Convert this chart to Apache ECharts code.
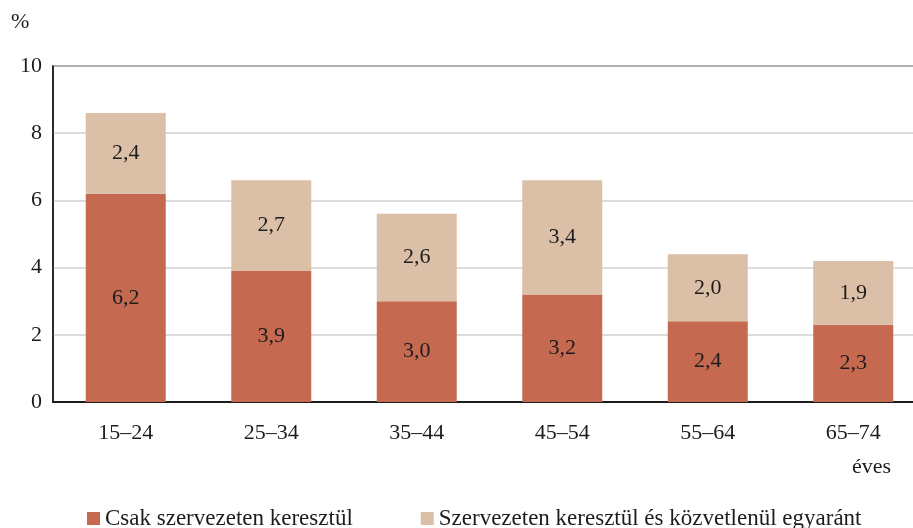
<!DOCTYPE html>
<html>
<head>
<meta charset="utf-8">
<script src="https://cdn.jsdelivr.net/npm/echarts@6/dist/echarts.min.js"></script>
<style>
  html, body { margin: 0; padding: 0; background: #fff; overflow: hidden; }
  /* plot area runs past the right edge of the window, like in the source picture */
  #chart { width: 926px; height: 528px; }
</style>
</head>
<body>
<div id="chart"></div>
<script>
// age groups
const categories = ['15–24', '25–34', '35–44', '45–54', '55–64', '65–74']
const onlyOrg = [6.2, 3.9, 3.0, 3.2, 2.4, 2.3]
const orgAndDirect = [2.4, 2.7, 2.6, 3.4, 2.0, 1.9]
const seriesNames = ['Csak szervezeten keresztül', 'Szervezeten keresztül és közvetlenül egyaránt']

const FONT = '"Liberation Serif", "DejaVu Serif", serif'
const INK = '#1c1c1c'
const fmt = p => p.value.toFixed(1).replace('.', ',')

const chart = echarts.init(document.getElementById('chart'))

const labelStyle = {
  show: true,
  position: 'inside',
  formatter: fmt,
  color: INK,
  fontFamily: FONT,
  fontSize: 22
}

chart.setOption({
  animation: false,
  grid: {
    left: 53, right: 0, top: 66, bottom: 126,
    show: true, borderColor: INK, borderWidth: 1.5,
    containLabel: false
  },
  legend: {
    left: 82, top: 502,
    itemWidth: 13, itemHeight: 13, itemGap: 68,
    icon: 'rect',
    textStyle: { fontFamily: FONT, fontSize: 23, color: INK },
    data: seriesNames
  },
  graphic: [
    { type: 'text', left: 11, top: 11, style: { text: '%', font: '22px ' + FONT, fill: INK } },
    { type: 'text', left: 852, top: 456, style: { text: 'éves', font: '22px ' + FONT, fill: INK } }
  ],
  xAxis: {
    type: 'category',
    data: categories,
    axisLine: { lineStyle: { color: INK, width: 2 } },
    axisTick: { show: false },
    axisLabel: { fontFamily: FONT, fontSize: 22, color: INK, margin: 20 }
  },
  yAxis: {
    type: 'value',
    min: 0, max: 10, interval: 2,
    axisLine: { show: true, lineStyle: { color: INK, width: 1.5 } },
    axisTick: { show: false },
    axisLabel: { fontFamily: FONT, fontSize: 22, color: INK, margin: 11 },
    splitLine: { lineStyle: { color: '#d0d0d0', width: 1.5 } }
  },
  series: [
    {
      name: seriesNames[0], type: 'bar', stack: 'total', barWidth: 80,
      itemStyle: { color: '#c56a51' },
      label: labelStyle,
      data: onlyOrg
    },
    {
      name: seriesNames[1], type: 'bar', stack: 'total', barWidth: 80,
      itemStyle: { color: '#dbbfa7' },
      label: labelStyle,
      data: orgAndDirect
    }
  ]
})
</script>
</body>
</html>
